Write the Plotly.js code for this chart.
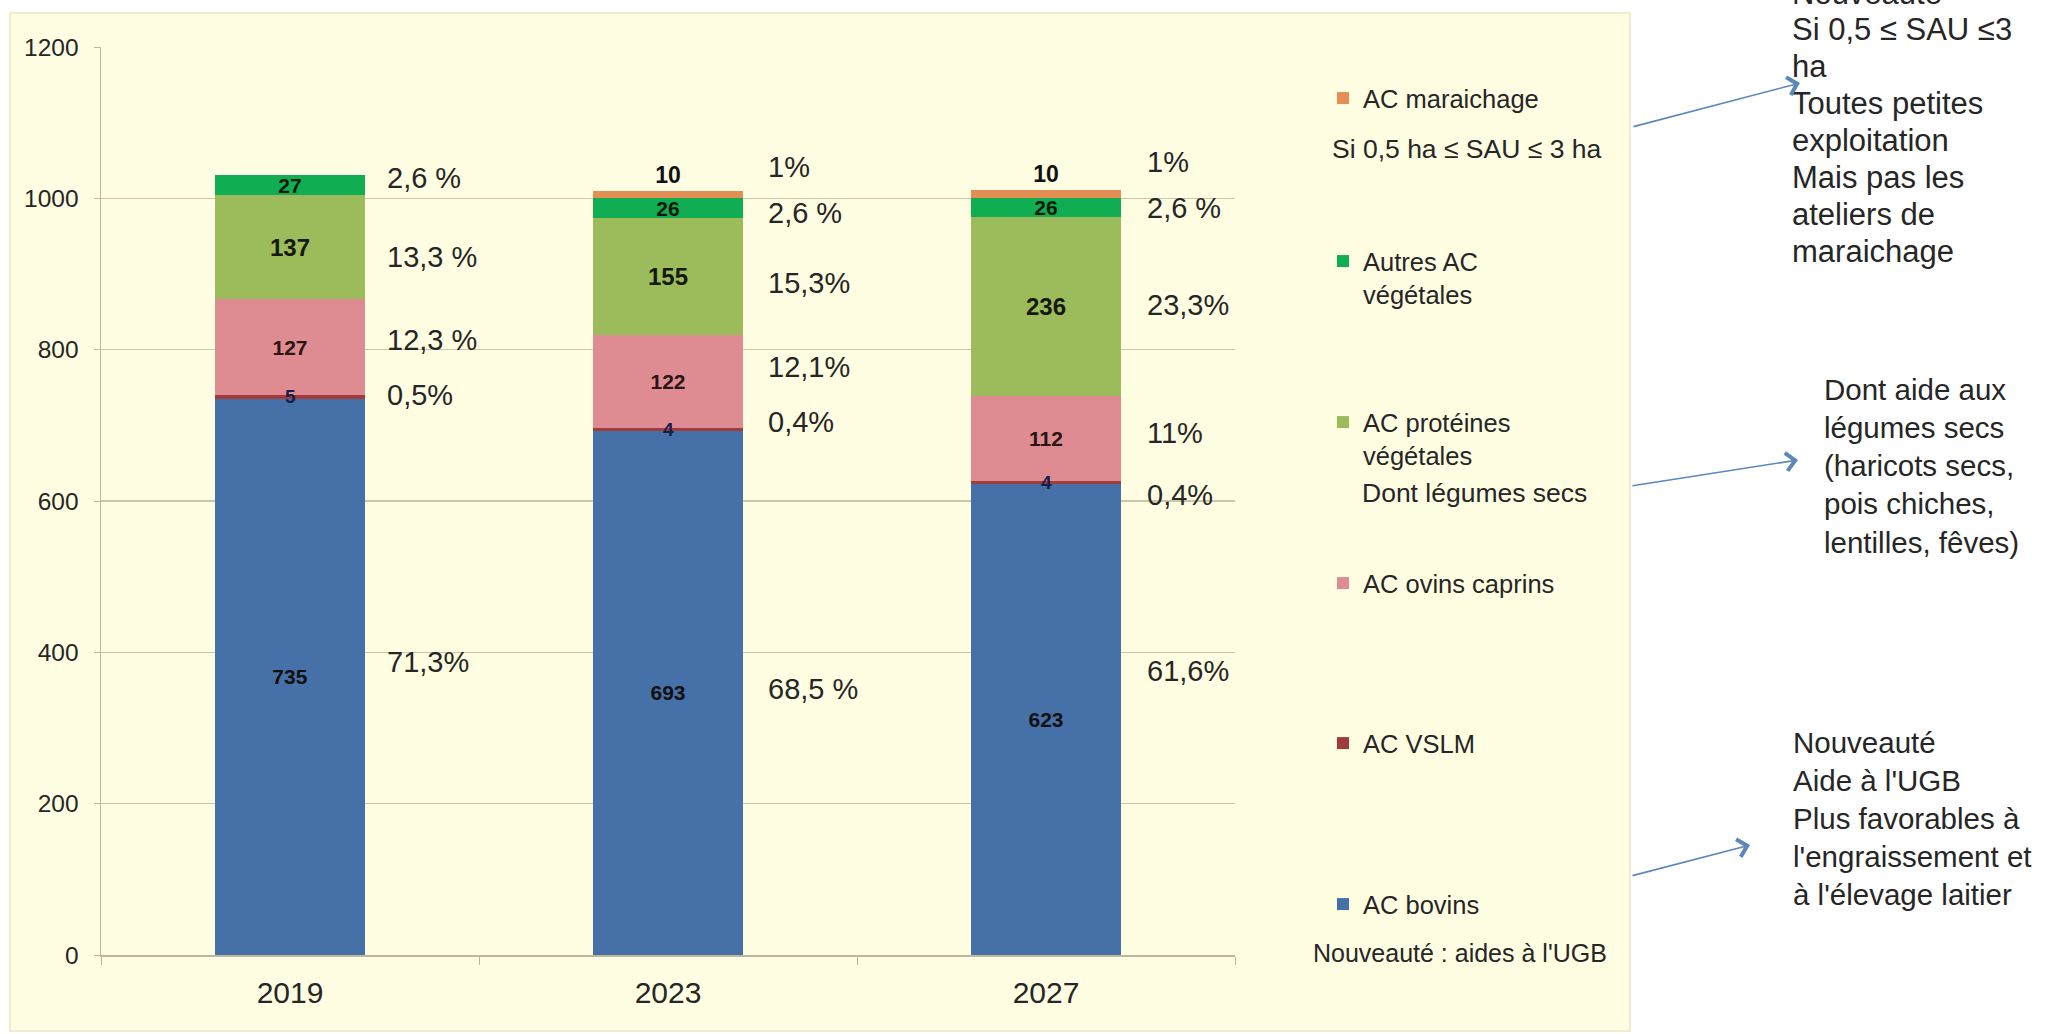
<!DOCTYPE html>
<html>
<head>
<meta charset="utf-8">
<script src="https://cdn.plot.ly/plotly-3.0.1.min.js"></script>
<style>
html,body{margin:0;padding:0;background:#ffffff;}
#chart{width:2055px;height:1034px;}
</style>
</head>
<body>
<div id="chart"></div>
<script>
// ---------- DATA ----------
const years = ['2019', '2023', '2027'];
const acBovins = [735, 693, 623];
const acVSLM = [5, 4, 4];
const acOvinsCaprins = [127, 122, 112];
const acProteines = [137, 155, 236];
const autresACVegetales = [27, 26, 26];
const acMaraichage = [0, 10, 10];

const pctBovins = ['71,3%', '68,5 %', '61,6%'];
const pctVSLM = ['0,5%', '0,4%', '0,4%'];
const pctOvins = ['12,3 %', '12,1%', '11%'];
const pctProteines = ['13,3 %', '15,3%', '23,3%'];
const pctAutres = ['2,6 %', '2,6 %', '2,6 %'];
const pctMaraichage = ['', '1%', '1%'];

const legendNames = ['AC bovins', 'AC VSLM', 'AC ovins caprins', 'AC protéines<br>végétales', 'Autres AC<br>végétales', 'AC maraichage'];
const noteMaraichage = 'Si 0,5 ha ≤ SAU ≤ 3 ha';
const noteProteines = 'Dont légumes secs';
const noteBovins = 'Nouveauté : aides à l\'UGB';
const calloutTop = ['Nouveauté', 'Si 0,5 ≤ SAU ≤3', 'ha', 'Toutes petites', 'exploitation', 'Mais pas les', 'ateliers de', 'maraichage'];
const calloutMid = ['Dont aide aux', 'légumes secs', '(haricots secs,', 'pois chiches,', 'lentilles, fêves)'];
const calloutBot = ['Nouveauté', 'Aide à l\'UGB', 'Plus favorables à', 'l\'engraissement et', 'à l\'élevage laitier'];

// ---------- LAYOUT HELPERS ----------
const FONT = 'Liberation Sans, Arial, sans-serif';
const W = 2055, H = 1034;
const PL = 101, PR = 1235, PT = 47, PB = 955;
const fx = px => (px - PL) / (PR - PL);
const fy = py => (PB - py) / (PB - PT);

const colors = ['#4670A8', '#A03D3C', '#DE8C91', '#9CBB5B', '#10AD52', '#E38E52'];
const series = [acBovins, acVSLM, acOvinsCaprins, acProteines, autresACVegetales, acMaraichage];
const labelSizes = [21, 19, 21, 24, 21, 23];
const labelColors = ['#101010', '#14204a', '#2a1414', '#141a0a', '#0a1a0a', '#101010'];
const legendIds = ['legend6', 'legend5', 'legend4', 'legend3', 'legend2', 'legend'];
const legendTopPx = { legend: 75, legend2: 238, legend3: 399, legend4: 560, legend5: 720, legend6: 881 };
const VSLM_IDX = 1;

const traces = series.map((vals, i) => ({
  type: 'bar',
  x: years,
  y: vals,
  name: legendNames[i],
  legend: legendIds[i],
  marker: { color: colors[i], line: { width: 0 } },
  // VSLM labels are drawn as annotations so the next segment does not cover them
  text: i === VSLM_IDX ? vals.map(() => '') : vals.map(v => v ? String(v) : ''),
  textposition: i === 5 ? 'outside' : 'inside',
  insidetextanchor: 'middle',
  textangle: 0,
  constraintext: 'none',
  cliponaxis: false,
  textfont: { family: FONT, size: labelSizes[i], color: labelColors[i], weight: 'bold' },
  insidetextfont: { family: FONT, size: labelSizes[i], color: labelColors[i], weight: 'bold' },
  outsidetextfont: { family: FONT, size: labelSizes[i], color: labelColors[i], weight: 'bold' },
  hoverinfo: 'x+y+name'
}));

const annotations = [];
// VSLM value labels, centred on their (thin) segment via the data scale
acVSLM.forEach((v, j) => {
  annotations.push({
    xref: 'x', yref: 'y', x: j, y: acBovins[j] + v / 2, text: '<b>' + v + '</b>',
    xanchor: 'center', yanchor: 'middle', showarrow: false,
    font: { family: FONT, size: labelSizes[VSLM_IDX], color: labelColors[VSLM_IDX] }
  });
});

// percentage annotations (positions in data units)
const pctSeries = [pctBovins, pctVSLM, pctOvins, pctProteines, pctAutres, pctMaraichage];
const pctY = [
  [387, 351, 375],
  [740, 704, 608],
  [813, 777, 690],
  [922, 888, 859],
  [1027, 980, 987],
  [null, 1041, 1048]
];
const pctXOff = [0.25, 0.26, 0.262];
pctSeries.forEach((arr, s) => {
  arr.forEach((t, j) => {
    if (!t) return;
    annotations.push({
      xref: 'x', yref: 'y', x: j + pctXOff[j], y: pctY[s][j], text: t,
      xanchor: 'left', yanchor: 'middle', showarrow: false,
      font: { family: FONT, size: 29, color: '#262626' }
    });
  });
});

function note(text, px, py, size) {
  annotations.push({
    xref: 'paper', yref: 'paper', x: fx(px), y: fy(py), text: text,
    xanchor: 'left', yanchor: 'middle', showarrow: false,
    font: { family: FONT, size: size, color: '#262626' }
  });
}
note(noteMaraichage, 1330, 149, 26.5);
note(noteProteines, 1360, 493, 26.5);
note(noteBovins, 1311, 953, 25);

function block(lines, px, py0, step, size) {
  lines.forEach((t, k) => note(t, px, py0 + k * step, size));
}
block(calloutTop, 1790, -7, 36.9, 31);
block(calloutMid, 1822, 389, 38.3, 29.5);
block(calloutBot, 1791, 742, 38, 29.5);

function arrow(x0, y0, x1, y1) {
  annotations.push({
    xref: 'paper', yref: 'paper', x: fx(x1), y: fy(y1),
    axref: 'pixel', ayref: 'pixel', ax: x0 - x1, ay: y0 - y1,
    text: '', showarrow: true, arrowhead: 4, arrowsize: 2.2, arrowwidth: 1.6,
    arrowcolor: '#5B87BA', standoff: 0, startstandoff: 0
  });
}
arrow(1632, 127, 1800, 83);
arrow(1631, 486, 1798, 460);
arrow(1631, 876, 1750, 845);

const legendBase = {
  xanchor: 'left', yanchor: 'top', bgcolor: 'rgba(0,0,0,0)', borderwidth: 0,
  font: { family: FONT, size: 25.5, color: '#262626' }, valign: 'top',
  itemclick: false, itemdoubleclick: false
};
const layout = {
  width: W, height: H,
  margin: { l: PL, r: W - PR, t: PT, b: H - PB, pad: 0 },
  paper_bgcolor: '#ffffff',
  plot_bgcolor: 'rgba(0,0,0,0)',
  barmode: 'stack',
  bargap: 0.603,
  showlegend: true,
  font: { family: FONT, color: '#262626' },
  xaxis: {
    type: 'category', range: [-0.5, 2.5], fixedrange: true,
    showline: true, linecolor: '#BDB79C', linewidth: 1.5,
    ticks: 'outside', tickson: 'boundaries', ticklen: 8, tickcolor: '#BDB79C',
    tickfont: { family: FONT, size: 30, color: '#262626' },
    ticklabelstandoff: 10, showgrid: false, zeroline: false
  },
  yaxis: {
    range: [0, 1200], dtick: 200, tick0: 0, fixedrange: true,
    showline: true, linecolor: '#BDB79C', linewidth: 1.5,
    ticks: 'outside', ticklen: 6, tickcolor: '#BDB79C',
    tickfont: { family: FONT, size: 24.5, color: '#262626' },
    ticklabelstandoff: 10,
    showgrid: true, gridcolor: '#CCC7AA', gridwidth: 1.1, zeroline: false
  },
  shapes: [{
    type: 'rect', xref: 'paper', yref: 'paper', layer: 'below',
    x0: fx(10), x1: fx(1630), y0: fy(1031), y1: fy(13),
    fillcolor: '#FFFDE2', line: { color: '#F0E4C4', width: 1.5 }
  }],
  annotations: annotations
};
Object.keys(legendTopPx).forEach(id => {
  layout[id] = Object.assign({}, legendBase, { x: fx(1323), y: fy(legendTopPx[id]) });
});

Plotly.newPlot('chart', traces, layout, { displayModeBar: false, staticPlot: true });
</script>
</body>
</html>
